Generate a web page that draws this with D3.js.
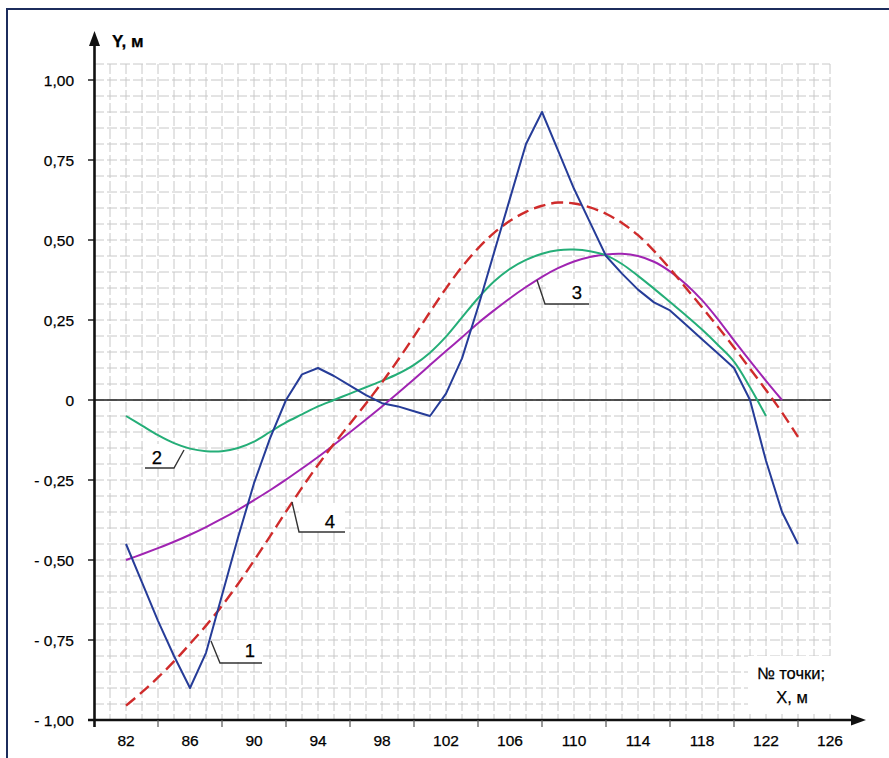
<!DOCTYPE html>
<html><head><meta charset="utf-8">
<script src="https://cdn.jsdelivr.net/npm/d3@7"></script>
<style>body{margin:0;background:#fff}svg{display:block}text{font-family:"Liberation Sans",Arial,sans-serif;fill:#000;stroke:#000;stroke-width:0.25px}</style>
</head><body>
<script>
const xPoints = d3.range(82, 125);
const blue1 = [-0.45,-0.57,-0.69,-0.80,-0.90,-0.79,-0.61,-0.43,-0.26,-0.12,0.0,0.08,0.10,0.075,0.045,0.015,-0.01,-0.02,-0.035,-0.05,0.02,0.13,0.29,0.46,0.63,0.80,0.90,0.78,0.66,0.555,0.45,0.395,0.345,0.305,0.28,0.235,0.19,0.145,0.10,0.0,-0.19,-0.35,-0.45];
const green2 = [-0.05,-0.08,-0.11,-0.135,-0.152,-0.16,-0.16,-0.15,-0.13,-0.10,-0.07,-0.045,-0.02,0.0,0.02,0.04,0.06,0.082,0.11,0.148,0.198,0.258,0.318,0.37,0.41,0.438,0.457,0.468,0.47,0.465,0.452,0.425,0.388,0.348,0.306,0.264,0.22,0.172,0.12,0.04,-0.05];
const purple3 = [-0.50,-0.482,-0.463,-0.443,-0.421,-0.397,-0.371,-0.343,-0.313,-0.282,-0.249,-0.214,-0.178,-0.140,-0.101,-0.061,-0.020,0.022,0.065,0.109,0.153,0.196,0.24,0.28,0.318,0.353,0.385,0.412,0.433,0.447,0.455,0.457,0.450,0.432,0.402,0.362,0.312,0.252,0.186,0.122,0.060,0.0];
const red4 = [-0.955,-0.913,-0.867,-0.817,-0.762,-0.705,-0.643,-0.575,-0.502,-0.426,-0.349,-0.274,-0.203,-0.137,-0.074,-0.011,0.055,0.125,0.199,0.275,0.349,0.416,0.474,0.522,0.560,0.588,0.607,0.617,0.614,0.602,0.582,0.553,0.515,0.466,0.410,0.350,0.290,0.228,0.164,0.098,0.031,-0.039,-0.115];
const xTickLabels = [82,86,90,94,98,102,106,110,114,118,122,126];
const yTickValues = [1,0.75,0.5,0.25,0,-0.25,-0.5,-0.75,-1];
const yTickLabels = ["1,00","0,75","0,50","0,25","0","- 0,25","- 0,50","- 0,75","- 1,00"];
const calloutNames = ["1","2","3","4"];

const W=889,H=758;
const svg=d3.select("body").append("svg").attr("width",W).attr("height",H);
const x=d3.scaleLinear().domain([82,126]).range([126,830]);
const y=d3.scaleLinear().domain([-1,1]).range([720,80]);

// frame
svg.append("rect").attr("x",7).attr("y",9).attr("width",900).attr("height",800)
  .attr("fill","none").attr("stroke","#1c2c5c").attr("stroke-width",2);

// grid
const g=svg.append("g").attr("stroke","#c8c8c8").attr("stroke-width",1);
d3.range(81,127).forEach(v=>{
  g.append("line").attr("x1",x(v)).attr("x2",x(v)).attr("y1",y(1.05)).attr("y2",y(-1)).attr("stroke-dasharray","10,3");
});
d3.range(-20,22).map(i=>i*0.05).forEach(v=>{
  g.append("line").attr("x1",x(80)).attr("x2",x(126)).attr("y1",y(v)).attr("y2",y(v)).attr("stroke-dasharray","10,3");
});

// white boxes behind labels
const boxes=[[220,640,42,22],[146,444,36,24],[546,279,43,25],[300,506,45,25],[748,656,83,56]];
boxes.forEach(b=>svg.append("rect").attr("x",b[0]).attr("y",b[1]).attr("width",b[2]).attr("height",b[3]).attr("fill","#fff"));

// zero line
svg.append("line").attr("x1",x(80)).attr("x2",x(126)+1).attr("y1",y(0)).attr("y2",y(0)).attr("stroke","#1a1a1a").attr("stroke-width",1.6);

// axes
const ax=x(80)+0.5;
svg.append("line").attr("x1",ax).attr("x2",ax).attr("y1",727).attr("y2",40).attr("stroke","#111").attr("stroke-width",2.6);
svg.append("path").attr("d",`M${ax},31 L${ax-5.5},46 L${ax+5.5},46 Z`).attr("fill","#111");
svg.append("line").attr("x1",88).attr("x2",856).attr("y1",y(-1)).attr("y2",y(-1)).attr("stroke","#111").attr("stroke-width",2.6);
svg.append("path").attr("d",`M866,${y(-1)} L851,${y(-1)-5.5} L851,${y(-1)+5.5} Z`).attr("fill","#111");
yTickValues.forEach(v=>svg.append("line").attr("x1",88).attr("x2",ax).attr("y1",y(v)).attr("y2",y(v)).attr("stroke","#111").attr("stroke-width",1.4));
d3.range(84,126,4).forEach(v=>svg.append("line").attr("x1",x(v)).attr("x2",x(v)).attr("y1",y(-1)).attr("y2",y(-1)+7).attr("stroke","#555").attr("stroke-width",1.2));

// tick labels
xTickLabels.forEach(v=>svg.append("text").attr("x",x(v)).attr("y",746).attr("text-anchor","middle").attr("font-size",15.5).text(v));
yTickValues.forEach((v,i)=>svg.append("text").attr("x",74).attr("y",y(v)).attr("dy","0.36em").attr("text-anchor","end").attr("font-size",15.5).text(yTickLabels[i]));

// axis titles
svg.append("text").attr("x",112).attr("y",47).attr("font-size",17).attr("font-weight","bold").text("Y, м");
svg.append("text").attr("x",791).attr("y",679).attr("text-anchor","middle").attr("font-size",16.5).text("№ точки;");
svg.append("text").attr("x",792).attr("y",703).attr("text-anchor","middle").attr("font-size",16.5).text("X, м");

// curves
function draw(vals,color,curve,dash,w){
  const pts=vals.map((v,i)=>[xPoints[i],v]);
  svg.append("path").datum(pts).attr("fill","none").attr("stroke",color).attr("stroke-width",w||2)
    .attr("stroke-linejoin","round").attr("stroke-dasharray",dash||null)
    .attr("d",d3.line().x(d=>x(d[0])).y(d=>y(d[1])).curve(curve));
}
draw(purple3,"#a024b2",d3.curveCatmullRom);
draw(green2,"#25ae78",d3.curveCatmullRom);
draw(red4,"#cf2b2b",d3.curveCatmullRom,"12,6",2.4);
draw(blue1,"#263c98",d3.curveLinear);

// callouts
const callouts=[
  {name:calloutNames[0],path:[[211,641],[220,663],[262,663]],tx:250,ty:657},
  {name:calloutNames[1],path:[[184,450],[174,468],[145,468]],tx:157,ty:464},
  {name:calloutNames[2],path:[[537,280],[545,304],[589,304]],tx:577,ty:299},
  {name:calloutNames[3],path:[[292,502],[299,532],[345,532]],tx:330,ty:528}
];
callouts.forEach(c=>{
  svg.append("path").attr("d",d3.line()(c.path)).attr("fill","none").attr("stroke","#333").attr("stroke-width",1.4);
  svg.append("text").attr("x",c.tx).attr("y",c.ty).attr("text-anchor","middle").attr("font-size",18.5).text(c.name);
});
</script>
</body></html>
